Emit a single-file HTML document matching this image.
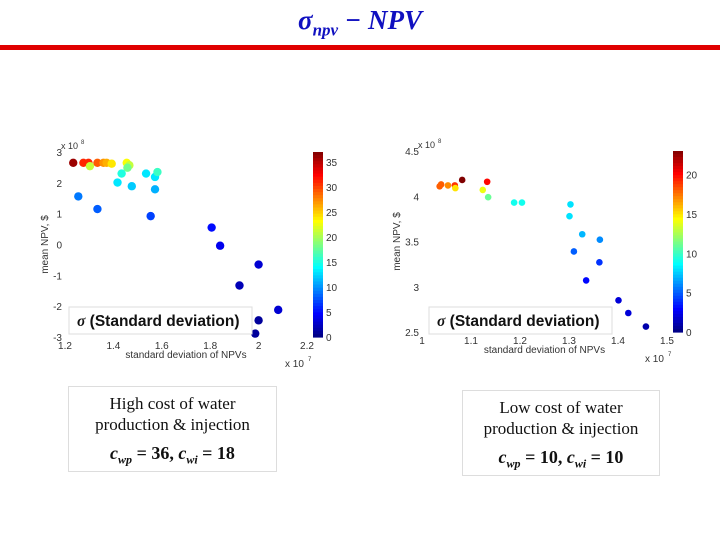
<!DOCTYPE html>
<html><head><meta charset="utf-8"><style>
body{margin:0;width:720px;height:540px;background:#fff;overflow:hidden;position:relative;font-family:"Liberation Sans",sans-serif}
.abs{position:absolute}
.box{position:absolute;border:1px solid #ddd;background:#fff;text-align:center;font-family:"Liberation Serif",serif;color:#111}
</style></head><body>
<div class="abs" style="left:0;width:720px;top:5px;text-align:center;font-family:'Liberation Serif',serif;font-weight:bold;font-style:italic;font-size:27px;color:#1010c0">σ<sub style="font-size:17px">npv</sub> − NPV</div>
<div class="abs" style="left:0;top:45px;width:720px;height:5px;background:#e00000"></div>
<svg class="abs" style="left:0;top:0" width="720" height="540" id="svg"></svg>
<div class="box" style="left:68px;top:386px;width:209px;height:86px;font-size:17px;line-height:21px;padding-top:6px;box-sizing:border-box">High cost of water<br>production &amp; injection<div style="margin-top:8px;font-weight:bold;font-style:italic;font-size:18px">c<sub style="font-size:12px">wp</sub> <span style="font-style:normal">= 36,</span> c<sub style="font-size:12px">wi</sub> <span style="font-style:normal">= 18</span></div></div>
<div class="box" style="left:462px;top:390px;width:198px;height:86px;font-size:17px;line-height:21px;padding-top:6px;box-sizing:border-box">Low cost of water<br>production &amp; injection<div style="margin-top:8px;font-weight:bold;font-style:italic;font-size:18px">c<sub style="font-size:12px">wp</sub> <span style="font-style:normal">= 10,</span> c<sub style="font-size:12px">wi</sub> <span style="font-style:normal">= 10</span></div></div>
<script>
const leftX=[1.234,1.276,1.297,1.334,1.359,1.372,1.393,1.303,1.455,1.466,1.458,1.434,1.417,1.476,1.535,1.572,1.582,1.572,1.255,1.334,1.554,1.806,1.841,2.0,1.921,2.081,2.0,1.986];
const leftY=[2.65,2.65,2.65,2.65,2.65,2.65,2.62,2.54,2.65,2.57,2.49,2.30,2.01,1.89,2.30,2.19,2.35,1.79,1.56,1.15,0.92,0.55,-0.04,-0.65,-1.33,-2.12,-2.46,-2.89];
const leftC=[36,31,31,29,27,26,24,21,23,21,18,15,13,12,13,13,16,11,9,8,7,5,4,3,2,3,1,1];
const rightX=[1.036,1.039,1.053,1.067,1.068,1.082,1.133,1.124,1.135,1.188,1.204,1.303,1.301,1.327,1.363,1.310,1.362,1.335,1.401,1.421,1.457];
const rightY=[4.11,4.13,4.12,4.12,4.09,4.18,4.16,4.07,3.99,3.93,3.93,3.91,3.78,3.58,3.52,3.39,3.27,3.07,2.85,2.71,2.56];
const rightC=[18,18,17,19,15,23,20,14,11,9,9,8,8,7,6,5,4,3,2,2,1];
const leftXTicks=[1.2,1.4,1.6,1.8,2,2.2];
const leftYTicks=[-3,-2,-1,0,1,2,3];
const leftCTicks=[0,5,10,15,20,25,30,35];
const rightXTicks=[1,1.1,1.2,1.3,1.4,1.5];
const rightYTicks=[2.5,3,3.5,4,4.5];
const rightCTicks=[0,5,10,15,20];
const NS="http://www.w3.org/2000/svg";
const svg=document.getElementById('svg');
function jet(t){t=Math.max(0,Math.min(1,t));const f=v=>Math.round(255*Math.max(0,Math.min(1,1.5-Math.abs(4*t-v))));return `rgb(${f(3)},${f(2)},${f(1)})`;}
function mk(tag,a,txt){const e=document.createElementNS(NS,tag);for(const k in a)e.setAttribute(k,a[k]);if(txt!==undefined)e.textContent=txt;svg.appendChild(e);return e;}
function chart(o){
 const sx=v=>o.x0+(v-o.xmin)/(o.xmax-o.xmin)*(o.x1-o.x0);
 const sy=v=>o.y0-(v-o.ymin)/(o.ymax-o.ymin)*(o.y0-o.y1);
 o.xt.forEach(v=>{const t=mk('text',{x:sx(v),y:o.y0+12,'text-anchor':'middle','font-size':10,fill:'#333'},String(v));
 
 });
 o.yt.forEach(v=>{const t=mk('text',{x:o.x0-3,y:sy(v)+4,'text-anchor':'end','font-size':10,fill:'#333'},String(v));
 
 });
 let t=mk('text',{x:(o.x0+o.x1)/2,y:o.y0+21,'text-anchor':'middle','font-size':10,fill:'#333'},'standard deviation of NPVs');
 
 
 t=mk('text',{x:o.x1-22,y:o.y0+30,'font-size':10,fill:'#333'},'x 10');
 
 
 mk('text',{x:o.x1+1,y:o.y0+24,'font-size':6,fill:'#333'},'7');
 t=mk('text',{x:o.x0-4,y:o.y1-3,'font-size':9,fill:'#333'},'x 10');
 
 
 mk('text',{x:o.x0+16,y:o.y1-8,'font-size':6,fill:'#333'},'8');
 t=mk('text',{transform:`translate(${o.x0-o.ylo},${(o.y0+o.y1)/2}) rotate(-90)`,'text-anchor':'middle','font-size':10,fill:'#333'},'mean NPV, $');
 
 
 const cy=v=>o.y0-v/o.cmax*(o.y0-o.y1);
 for(let i=0;i<60;i++){const r=mk('rect',{x:o.cbx,y:o.y1+(o.y0-o.y1)*i/60,width:10,height:(o.y0-o.y1)/60+0.6,fill:jet(1-(i+0.5)/60)});
 
 }
 o.ct.forEach(v=>{const tt=mk('text',{x:o.cbx+13,y:cy(v)+4,'font-size':10,fill:'#333'},String(v));
 
 });
 o.X.forEach((v,i)=>{const c=mk('circle',{cx:sx(v),cy:sy(o.Y[i]),r:o.r,fill:jet(o.C[i]/o.cmax)});
 
 });
 const lg=mk('rect',{x:o.lx,y:307,width:183,height:27,fill:'#fff',stroke:'#ddd'});
 
 
 t=mk('text',{x:o.lx+8,y:326,'font-size':15.5,'font-weight':'bold',fill:'#111'},'');
 t.innerHTML='<tspan font-style="italic" font-family="Liberation Serif">σ</tspan> (Standard deviation)';
 
 
}
chart({x0:65,x1:307,y0:337,y1:152,xmin:1.2,xmax:2.2,ymin:-3,ymax:3,xt:leftXTicks,yt:leftYTicks,X:leftX,Y:leftY,C:leftC,cmax:37,ct:leftCTicks,cbx:313,r:4.2,lx:69,ylo:17});
chart({x0:422,x1:667,y0:332,y1:151,xmin:1,xmax:1.5,ymin:2.5,ymax:4.5,xt:rightXTicks,yt:rightYTicks,X:rightX,Y:rightY,C:rightC,cmax:23,ct:rightCTicks,cbx:673,r:3.3,lx:429,ylo:22});
</script>
</body></html>
